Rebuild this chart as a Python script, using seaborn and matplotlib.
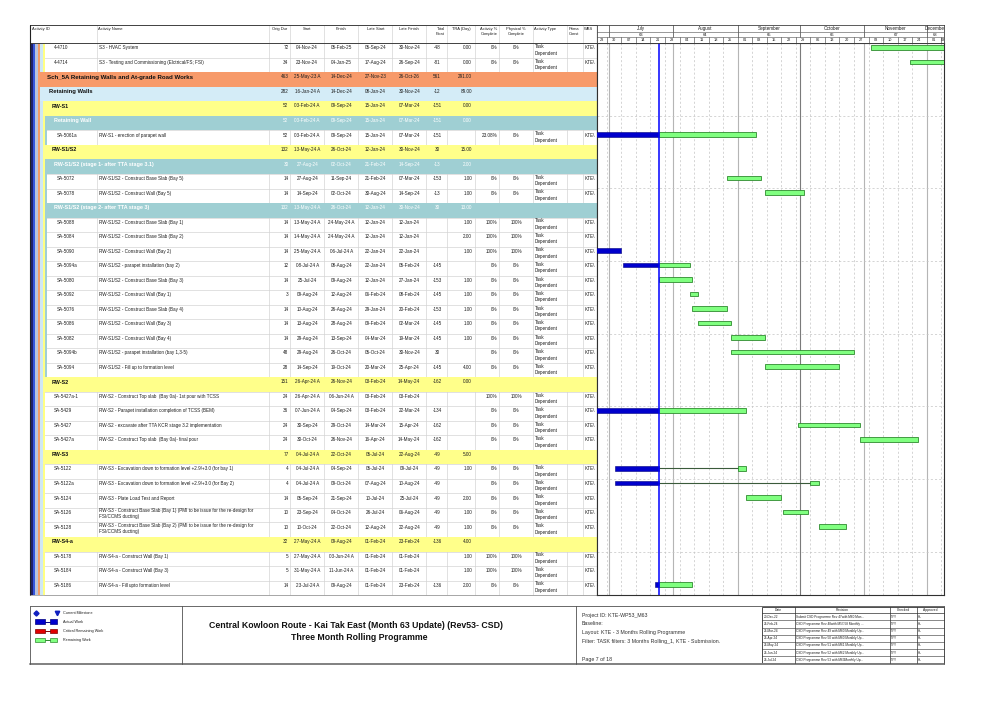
import matplotlib
matplotlib.use("Agg")
import matplotlib.pyplot as plt
import matplotlib.dates as mdates
from matplotlib.patches import Rectangle
import seaborn as sns
from datetime import datetime, timedelta

sns.set_theme(style="white")
plt.rcParams['font.family'] = ['Liberation Sans', 'DejaVu Sans']

# ------------------------------------------------------------------ data
ids = ["4-4710", "4-4714", "Sch_5A Retaining Walls and At-grade Road Works", "Retaining Walls",
       "RW-S1", "Retaining Wall", "SA-5061a", "RW-S1/S2", "RW-S1/S2 (stage 1- after TTA stage 3.1)",
       "SA-5072", "SA-5078", "RW-S1/S2 (stage 2- after TTA stage 3)", "SA-5088", "SA-5084", "SA-5090",
       "SA-5094a", "SA-5080", "SA-5092", "SA-5076", "SA-5086", "SA-5082", "SA-5094b", "SA-5094",
       "RW-S2", "SA-5427a-1", "SA-5429", "SA-5427", "SA-5427a", "RW-S3", "SA-5122", "SA-5122a",
       "SA-5124", "SA-5126", "SA-5128", "RW-S4-a", "SA-5178", "SA-5184", "SA-5186"]
levels = [6, 6, 3, 4, 5, 6, 7, 5, 6, 7, 7, 6, 7, 7, 7, 7, 7, 7, 7, 7, 7, 7, 7,
          5, 6, 6, 6, 6, 5, 6, 6, 6, 6, 6, 5, 6, 6, 6]
is_wbs = [False, False, True, True, True, True, False, True, True, False, False, True,
          False, False, False, False, False, False, False, False, False, False, False,
          True, False, False, False, False, True, False, False, False, False, False,
          True, False, False, False]
names = ["S3 - HVAC System", "S3 - Testing and Commissioning (Elctrical/FS; FSI)", "", "", "", "",
         "RW-S1 - erection of parapet wall", "", "",
         "RW-S1/S2 - Construct Base Slab (Bay 5)", "RW-S1/S2 - Construct Wall (Bay 5)", "",
         "RW-S1/S2 - Construct Base Slab (Bay 1)", "RW-S1/S2 - Construct Base Slab (Bay 2)",
         "RW-S1/S2 - Construct Wall (Bay 2)", "RW-S1/S2 - parapet installation (bay 2)",
         "RW-S1/S2 - Construct Base Slab (Bay 3)", "RW-S1/S2 - Construct Wall (Bay 1)",
         "RW-S1/S2 - Construct Base Slab (Bay 4)", "RW-S1/S2 - Construct Wall (Bay 3)",
         "RW-S1/S2 - Construct Wall (Bay 4)", "RW-S1/S2 - parapet installation (bay 1,3-5)",
         "RW-S1/S2 - Fill up to formation level", "",
         "RW-S2 - Construct Top slab  (Bay 0a)- 1st pour with TCSS",
         "RW-S2 - Parapet installation completion of TCSS (BEM)",
         "RW-S2 - excavate after TTA KCR stage 3.2 implementation",
         "RW-S2 - Construct Top slab  (Bay 0a)- final pour", "",
         "RW-S3 - Excavation down to formation level +2.9/+3.0 (for bay 1)",
         "RW-S3 - Excavation down to formation level +2.9/+3.0 (for Bay 2)",
         "RW-S3 - Plate Load Test and Report",
         "RW-S3 - Construct Base Slab (Bay 1) (PMI to be issue for the re-design for\nFSI/CCMS ducting)",
         "RW-S3 - Construct Base Slab (Bay 2) (PMI to be issue for the re-design for\nFSI/CCMS ducting)",
         "", "RW-S4-a - Construct Wall (Bay 1)", "RW-S4-a - Construct Wall (Bay 3)",
         "RW-S4-a - Fill upto formation level"]
orig_dur = [72, 34, 463, 282, 52, 52, 52, 132, 30, 14, 14, 132, 14, 14, 14, 12, 14, 3, 14, 14, 14,
            48, 28, 151, 24, 36, 24, 24, 77, 4, 4, 14, 10, 10, 32, 5, 5, 14]
starts = ["04-Nov-24", "23-Nov-24", "25-May-23 A", "16-Jan-24 A", "03-Feb-24 A", "03-Feb-24 A",
          "03-Feb-24 A", "13-May-24 A", "27-Aug-24", "27-Aug-24", "14-Sep-24", "13-May-24 A",
          "13-May-24 A", "14-May-24 A", "25-May-24 A", "08-Jul-24 A", "25-Jul-24", "09-Aug-24",
          "10-Aug-24", "13-Aug-24", "29-Aug-24", "29-Aug-24", "14-Sep-24", "26-Apr-24 A",
          "26-Apr-24 A", "07-Jun-24 A", "30-Sep-24", "30-Oct-24", "04-Jul-24 A", "04-Jul-24 A",
          "04-Jul-24 A", "05-Sep-24", "23-Sep-24", "10-Oct-24", "27-May-24 A", "27-May-24 A",
          "31-May-24 A", "23-Jul-24 A"]
finishes = ["05-Feb-25", "04-Jan-25", "14-Dec-24", "14-Dec-24", "09-Sep-24", "09-Sep-24",
            "09-Sep-24", "26-Oct-24", "02-Oct-24", "11-Sep-24", "02-Oct-24", "26-Oct-24",
            "24-May-24 A", "24-May-24 A", "06-Jul-24 A", "08-Aug-24", "09-Aug-24", "12-Aug-24",
            "26-Aug-24", "28-Aug-24", "13-Sep-24", "26-Oct-24", "19-Oct-24", "26-Nov-24",
            "06-Jun-24 A", "04-Sep-24", "29-Oct-24", "26-Nov-24", "22-Oct-24", "04-Sep-24",
            "09-Oct-24", "21-Sep-24", "04-Oct-24", "22-Oct-24", "09-Aug-24", "03-Jun-24 A",
            "11-Jun-24 A", "09-Aug-24"]
late_starts = ["05-Sep-24", "17-Aug-24", "27-Nov-23", "08-Jan-24", "15-Jan-24", "15-Jan-24",
               "15-Jan-24", "12-Jan-24", "21-Feb-24", "21-Feb-24", "30-Aug-24", "12-Jan-24",
               "12-Jan-24", "12-Jan-24", "22-Jan-24", "22-Jan-24", "12-Jan-24", "06-Feb-24",
               "29-Jan-24", "09-Feb-24", "04-Mar-24", "05-Oct-24", "20-Mar-24", "03-Feb-24",
               "03-Feb-24", "03-Feb-24", "14-Mar-24", "16-Apr-24", "05-Jul-24", "05-Jul-24",
               "07-Aug-24", "10-Jul-24", "26-Jul-24", "12-Aug-24", "01-Feb-24", "01-Feb-24",
               "01-Feb-24", "01-Feb-24"]
late_finishes = ["30-Nov-24", "26-Sep-24", "26-Oct-26", "30-Nov-24", "07-Mar-24", "07-Mar-24",
                 "07-Mar-24", "30-Nov-24", "14-Sep-24", "07-Mar-24", "14-Sep-24", "30-Nov-24",
                 "12-Jan-24", "12-Jan-24", "22-Jan-24", "05-Feb-24", "27-Jan-24", "08-Feb-24",
                 "20-Feb-24", "02-Mar-24", "19-Mar-24", "30-Nov-24", "25-Apr-24", "14-May-24",
                 "03-Feb-24", "22-Mar-24", "15-Apr-24", "14-May-24", "22-Aug-24", "09-Jul-24",
                 "10-Aug-24", "25-Jul-24", "06-Aug-24", "22-Aug-24", "23-Feb-24", "01-Feb-24",
                 "01-Feb-24", "23-Feb-24"]
total_float = ["-48", "-81", "561", "-12", "-151", "-151", "-151", "30", "-13", "-153", "-13", "30",
               "", "", "", "-145", "-153", "-145", "-153", "-145", "-145", "30", "-145", "-162",
               "", "-134", "-162", "-162", "-49", "-49", "-49", "-49", "-49", "-49", "-136", "", "",
               "-136"]
tra_days = ["0.00", "0.00", "291.00", "89.00", "0.00", "0.00", "", "15.00", "2.00", "1.00", "1.00",
            "13.00", "1.00", "2.00", "1.00", "", "1.00", "1.00", "1.00", "1.00", "1.00", "", "4.00",
            "0.00", "", "", "", "", "5.00", "1.00", "", "2.00", "1.00", "1.00", "4.00", "1.00",
            "1.00", "2.00"]
act_pct = ["0%", "0%", "", "", "", "", "23.08%", "", "", "0%", "0%", "", "100%", "100%", "100%",
           "0%", "0%", "0%", "0%", "0%", "0%", "0%", "0%", "", "100%", "0%", "0%", "0%", "", "0%",
           "0%", "0%", "0%", "0%", "", "100%", "100%", "0%"]
phys_pct = ["0%", "0%", "", "", "", "", "0%", "", "", "0%", "0%", "", "100%", "100%", "100%",
            "0%", "0%", "0%", "0%", "0%", "0%", "0%", "0%", "", "100%", "0%", "0%", "0%", "", "0%",
            "0%", "0%", "0%", "0%", "", "100%", "100%", "0%"]
resume_dates = {29: "01-Sep-24", 30: "06-Oct-24"}   # suspended activities resuming
data_date = "25-Jul-24"
month_numbers = {7: "63", 8: "64", 9: "65", 10: "66", 11: "67", 12: "68"}

headers = ["Activity ID", "Activity Name", "Orig Dur", "Start", "Finish", "Late Start",
           "Late Finish", "Total\nFloat", "TRA (Day)", "Activity %\nComplete",
           "Physical %\nComplete", "Activity Type", "Prima\nConst", "WBS"]

legend_labels = ["Current Milestone", "Actual Work", "Critical Remaining Work", "Remaining Work"]
title_lines = ["Central Kowloon Route - Kai Tak East (Month 63 Update) (Rev53- CSD)",
               "Three Month Rolling Programme"]
info_lines = ["Project ID: KTE-WP53_M63", "Baseline:", "Layout: KTE - 3 Months Rolling Programme",
              "Filter: TASK filters: 3 Months Rolling_1, KTE - Submission."]
page_label = "Page 7 of 18"
rev_header = ["Date", "Revision", "Checked", "Approved"]
rev_dates = ["20-Dec-22", "25-Feb-24", "25-Mar-24", "25-Apr-24", "25-May-24", "25-Jun-24", "25-Jul-24"]
rev_text = ["Submit CSD Programme Rev 47with M60 Mon...", "CSD Programme Rev 48with M57/58 Monthly ...",
            "CSD Programme Rev 49 with M60 Monthly Up...", "CSD Programme Rev 50 with M60 Monthly Up...",
            "CSD Programme Rev 51 with M61 Monthly Up...", "CSD Programme Rev 52 with M62 Monthly Up...",
            "CSD Programme Rev 53 with M63Monthly Up..."]
rev_checked = ["TYY"] * 7
rev_approved = ["HL"] * 7

# ------------------------------------------------------------------ helpers
def pdate(s):
    return datetime.strptime(s.replace(" A", "").strip(), "%d-%b-%y")

W, H = 1001, 708
fig = plt.figure(figsize=(W / 100, H / 100), dpi=100)
page = fig.add_axes([0, 0, 1, 1])
page.set_xlim(0, W)
page.set_ylim(H, 0)
page.axis('off')

def frac(x0, y0, x1, y1):
    return [x0 / W, 1 - y1 / H, (x1 - x0) / W, (y1 - y0) / H]

X0, XT, XG = 30, 597, 944
Y0, YH, RH = 25, 43.3, 14.52
NR = len(ids)
YB = YH + NR * RH
xb = [30, 96.7, 268.5, 290, 324.3, 358.3, 392.3, 426.3, 446.7, 475, 499.3, 532.7, 567.3, 582.7, 597]
FS = 3.3
TXT = '#1e1e1e'
GRID = '#d4d4d4'

lvl_x = {k: 30.5 + 2.4 * k for k in range(8)}
stripe_cols = ['#20206a', '#3656dc', '#b9c3dc', '#f49a66', '#cfe7f4', '#ffff82', '#9fcfd3']
band_cols = {3: '#f79a6a', 4: '#d4ecf7', 5: '#ffff8a', 6: '#9fcfd3'}

# grid of the table
for i in range(NR + 1):
    page.plot([44, XT], [YH + i * RH] * 2, color=GRID, lw=0.5, zorder=1)
for x in xb[1:-1]:
    page.plot([x, x], [Y0, YB], color=GRID, lw=0.5, zorder=1)

# header
hy = 29.3
for j, h in enumerate(headers):
    lines = h.split("\n")
    a, b = xb[j], xb[j + 1]
    if j in (0, 1, 11, 12, 13):
        x, ha = a + 1.5, 'left'
    elif j in (7, 9):
        x, ha = b - 2, 'right'
    else:
        x, ha = (a + b) / 2, 'center'
    for k, ln in enumerate(lines):
        page.text(x, hy + 4.8 * k, ln, fontsize=2.9, ha=ha, va='center', color=TXT, zorder=5)

# rows
for i in range(NR):
    top = YH + i * RH
    lev = levels[i]
    for k in range(lev):
        page.add_patch(Rectangle((lvl_x[k], top), 2.4, RH, fc=stripe_cols[k], ec='none', zorder=3))
    if is_wbs[i]:
        col = band_cols[lev]
        page.add_patch(Rectangle((lvl_x[lev], top), XT - lvl_x[lev], RH, fc=col, ec='none', zorder=2))
        tcol = 'white' if lev == 6 else '#111111'
        fsz = {3: 4.4, 4: 4.2, 5: 3.9, 6: 3.9}[lev]
        page.text(lvl_x[lev] + 9.1, top + 4.8, ids[i], fontsize=fsz, fontweight='bold',
                  ha='left', va='center', color=tcol, zorder=5)
        ncol = 'white' if lev == 6 else TXT
    else:
        page.text(lvl_x[lev] + 9.3, top + 4.6, ids[i], fontsize=FS, ha='left', va='center',
                  color=TXT, zorder=5)
        nl = names[i].split("\n")
        if len(nl) == 1:
            page.text(99, top + 4.6, nl[0], fontsize=FS, ha='left', va='center', color=TXT, zorder=5)
        else:
            page.text(99, top + 3.0, nl[0], fontsize=FS, ha='left', va='center', color=TXT, zorder=5)
            page.text(99, top + 8.9, nl[1], fontsize=FS, ha='left', va='center', color=TXT, zorder=5)
        page.text(535, top + 3.4, "Task", fontsize=FS, ha='left', va='center', color=TXT, zorder=5)
        page.text(535, top + 9.8, "Dependent", fontsize=FS, ha='left', va='center', color=TXT, zorder=5)
        page.text(584.3, top + 4.6, "KTE\\", fontsize=FS, ha='left', va='center', color=TXT, zorder=5,
                  clip_on=True)
        ncol = TXT
    y = top + 4.6
    vals = [(str(orig_dur[i]), 288.5, 'right'), (starts[i], 307.2, 'center'),
            (finishes[i], 341.3, 'center'), (late_starts[i], 375.3, 'center'),
            (late_finishes[i], 409.3, 'center'), (total_float[i], 437, 'center'),
            (tra_days[i], 472, 'right'), (act_pct[i], 497.3, 'right'), (phys_pct[i], 516, 'center')]
    for v, x, ha in vals:
        if v:
            page.text(x, y, v, fontsize=FS, ha=ha, va='center', color=ncol, zorder=5)

# table borders
page.plot([X0, XG], [Y0, Y0], color='#404040', lw=0.7, zorder=6)
page.plot([X0, XG], [YH, YH], color='#404040', lw=0.7, zorder=6)
page.plot([X0, X0], [Y0, YB], color='#202020', lw=0.8, zorder=6)
page.plot([X0, XT], [YB, YB], color='#909090', lw=0.5, zorder=6)
page.plot([XT, XT], [Y0, YB], color='#202020', lw=0.8, zorder=6)

# ------------------------------------------------------------------ Gantt
x_start = datetime(2024, 6, 25, 6, 30)
x_end = datetime(2024, 12, 9, 8, 0)
gax = fig.add_axes(frac(XT, YH, XG, YB))
gax.set_xlim(mdates.date2num(x_start), mdates.date2num(x_end))
gax.set_ylim(NR, 0)
gax.set_xticks([])
gax.set_yticks([])
gax.set_facecolor('white')
for s in gax.spines.values():
    s.set_color('#303030')
    s.set_linewidth(0.8)

# week and month grid
d = datetime(2024, 6, 23)
sundays = []
while d <= x_end:
    sundays.append(d)
    d += timedelta(days=7)
for s in sundays:
    gax.axvline(mdates.date2num(s), color='#c4c4c4', lw=0.5, ls=(0, (3, 3)), zorder=0)
months = [datetime(2024, m, 1) for m in range(6, 13)] + [datetime(2025, 1, 1)]
for m in months[1:-1]:
    gax.axvline(mdates.date2num(m), color='#7a7a7a' if m.month == 10 else '#b5b5b5', lw=0.8, zorder=0)
for r in range(5, NR, 5):
    gax.axhline(r, color='#c4c4c4', lw=0.5, ls=(0, (3, 3)), zorder=0)

dd = pdate(data_date)
blue_l, blue_w, blue_y = [], [], []
green_l, green_w, green_y = [], [], []
links = []
for i in range(NR):
    if is_wbs[i]:
        continue
    s, f = pdate(starts[i]), pdate(finishes[i]) + timedelta(days=1)
    sa, fa_ = starts[i].endswith(" A"), finishes[i].endswith(" A")
    yy = i + 0.2755
    if fa_:
        blue_l.append(s); blue_w.append(f - s); blue_y.append(yy)
    elif sa:
        blue_l.append(s); blue_w.append(dd - s); blue_y.append(yy)
        rs = pdate(resume_dates[i]) if i in resume_dates else dd
        if i in resume_dates:
            links.append((dd, rs, yy))
        green_l.append(rs); green_w.append(f - rs); green_y.append(yy)
    else:
        green_l.append(s); green_w.append(f - s); green_y.append(yy)

num = mdates.date2num
for a, b, yy in links:
    gax.plot([num(a), num(b)], [yy, yy], color='#3a5a3a', lw=0.8, zorder=2)
gax.barh(blue_y, [w.total_seconds() / 86400 for w in blue_w], left=[num(v) for v in blue_l],
         height=0.31, color='#0000cc', edgecolor='#000080', linewidth=0.4, zorder=3)
gax.barh(green_y, [w.total_seconds() / 86400 for w in green_w], left=[num(v) for v in green_l],
         height=0.31, color='#80ff80', edgecolor='#2f8a2f', linewidth=0.6, zorder=3)
gax.axvline(num(dd), color='#0000ff', lw=1.1, zorder=4)

# Gantt header (timescale)
hax = fig.add_axes(frac(XT, Y0, XG, YH), sharex=gax)
hax.set_ylim(YH, Y0)
hax.set_xticks([])
hax.set_yticks([])
for s in hax.spines.values():
    s.set_color('#404040')
    s.set_linewidth(0.6)
xs, xe = num(x_start), num(x_end)
hax.axhline(31.7, color='#707070', lw=0.5)
hax.axhline(37.3, color='#707070', lw=0.5)
for a, b in zip(months[:-1], months[1:]):
    na, nb = num(a), num(b)
    if xs < na < xe:
        hax.plot([na, na], [Y0, 37.3], color='#606060', lw=0.6)
    va_, vb_ = max(na, xs), min(nb, xe)
    if vb_ - va_ >= 7:
        c = (va_ + vb_) / 2
        hax.text(c, 28.4, a.strftime("%B"), fontsize=3.3, ha='center', va='center', color=TXT,
                 clip_on=True)
        hax.text(c, 34.5, month_numbers.get(a.month, ""), fontsize=3.0, ha='center', va='center',
                 color=TXT, clip_on=True)
for s in sundays:
    ns, ne = num(s), num(s + timedelta(days=7))
    if xs < ns < xe:
        hax.plot([ns, ns], [37.3, YH], color='#606060', lw=0.5)
    va_, vb_ = max(ns, xs), min(ne, xe)
    if vb_ > va_:
        hax.text((va_ + vb_) / 2, 40.3, s.strftime("%d"), fontsize=2.8, ha='center', va='center',
                 color=TXT, clip_on=True)

# ------------------------------------------------------------------ footer
FT, FB = 606, 664.3
page.plot([X0, XG], [FT, FT], color='#505050', lw=0.6)
page.plot([X0, XG], [FB, FB], color='#808080', lw=1.4)
page.plot([X0, X0], [FT, FB], color='#505050', lw=0.6)
page.plot([XG, XG], [FT, FB], color='#505050', lw=0.6)
page.plot([181.7, 181.7], [FT, FB], color='#505050', lw=0.6)
page.plot([576, 576], [FT, FB], color='#505050', lw=0.6)

# legend
page.plot([36], [612.8], marker='D', ms=2.6, color='#1020c0', mec='#1020c0', ls='none')
page.plot([57.3], [612.8], marker='v', ms=3.2, color='#1020c0', mec='#1020c0', ls='none')
leg_y = [612.8, 621.7, 631, 640]
leg_fc = [None, '#0000cc', '#e00000', '#80ff80']
leg_ec = [None, '#000080', '#800000', '#2f8a2f']
for k, lab in enumerate(legend_labels):
    page.text(62.7, leg_y[k], lab, fontsize=2.7, ha='left', va='center', color=TXT)
    if k > 0:
        page.add_patch(Rectangle((35, leg_y[k] - 2.3), 10, 4.6, fc=leg_fc[k], ec=leg_ec[k], lw=0.5))
        page.add_patch(Rectangle((50, leg_y[k] - 2.3), 7.3, 4.6, fc=leg_fc[k], ec=leg_ec[k], lw=0.5))
        page.plot([45, 50], [leg_y[k], leg_y[k]], color=leg_ec[k], lw=0.7)

page.text(356, 625, title_lines[0], fontsize=6.3, fontweight='bold', ha='center', va='center',
          color='#111111')
page.text(359, 637.5, title_lines[1], fontsize=6.3, fontweight='bold', ha='center', va='center',
          color='#111111')

for k, ln in enumerate(info_lines):
    page.text(582, 615 + 8.9 * k, ln, fontsize=3.8, ha='left', va='center', color='#303030')
page.text(582, 659.5, page_label, fontsize=3.8, ha='left', va='center', color='#303030')

# revision table
rx = [762.3, 795, 890, 916.5, 944.3]
ry0, rh0, rrh = 607.3, 6.0, 7.14
page.add_patch(Rectangle((rx[0], ry0), rx[-1] - rx[0], rh0 + 7 * rrh, fc='none', ec='#303030', lw=0.6))
for x in rx[1:-1]:
    page.plot([x, x], [ry0, ry0 + rh0 + 7 * rrh], color='#303030', lw=0.5)
page.plot([rx[0], rx[-1]], [ry0 + rh0] * 2, color='#303030', lw=0.5)
for k in range(1, 7):
    page.plot([rx[0], rx[-1]], [ry0 + rh0 + k * rrh] * 2, color='#303030', lw=0.4)
for j, h in enumerate(rev_header):
    page.text((rx[j] + rx[j + 1]) / 2, ry0 + rh0 / 2, h, fontsize=2.4, ha='center', va='center',
              color=TXT)
for k in range(7):
    yy = ry0 + rh0 + (k + 0.5) * rrh
    for j, v in enumerate([rev_dates[k], rev_text[k], rev_checked[k], rev_approved[k]]):
        page.text(rx[j] + 1.2, yy, v, fontsize=2.25, ha='left', va='center', color=TXT)

fig.savefig("out.png", dpi=100)
